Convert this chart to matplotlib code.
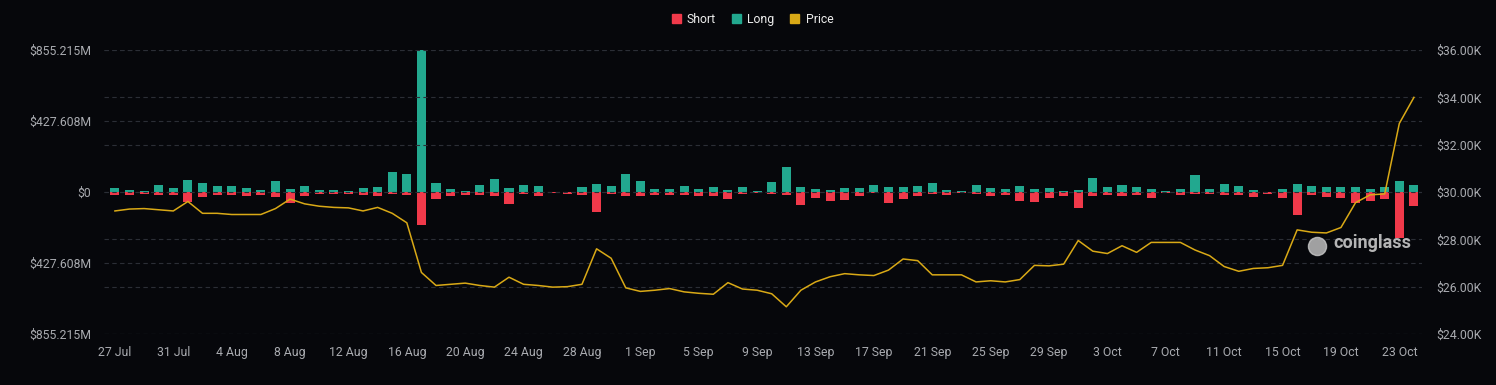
import matplotlib
matplotlib.use("Agg")
import matplotlib.pyplot as plt
from matplotlib.patches import Patch
import numpy as np
import pandas as pd

# daily liquidations (USD millions) and BTC price (USD thousands), 27 Jul - 24 Oct
dates = pd.date_range("2023-07-27", periods=90, freq="D")

long_vals = [26, 10, 4, 42, 26, 72, 56, 34, 38, 24, 12, 64, 16, 34, 14,
             12, 4, 22, 30, 122, 110, 855.215, 56, 16, 8, 42, 78, 22, 42, 36,
             2, 2, 32, 46, 38, 108, 66, 16, 18, 34, 16, 32, 12, 32, 6,
             62, 148, 30, 16, 10, 22, 22, 40, 28, 28, 38, 54, 10, 6, 42,
             26, 16, 38, 18, 22, 8, 14, 87, 31, 42, 31, 18, 7, 17, 105,
             20, 48, 36, 14, 2, 16, 48, 34, 32, 32, 28, 20, 32, 68, 40]

short_vals = [18, 18, 14, 18, 18, 58, 32, 16, 18, 22, 18, 32, 66, 22, 10,
              12, 12, 18, 22, 12, 16, 200, 40, 26, 16, 20, 24, 70, 12, 22,
              6, 10, 18, 118, 12, 22, 26, 16, 16, 16, 24, 26, 44, 14, 6,
              14, 18, 80, 36, 52, 48, 26, 6, 64, 42, 24, 14, 16, 6, 10,
              26, 16, 54, 60, 36, 22, 96, 26, 16, 24, 16, 36, 6, 16, 14,
              10, 16, 16, 32, 14, 36, 140, 20, 32, 34, 68, 56, 40, 280, 86]

price = [29.2, 29.28, 29.3, 29.25, 29.2, 29.6, 29.1, 29.1, 29.05, 29.05, 29.05, 29.3, 29.7, 29.5, 29.4,
         29.35, 29.33, 29.2, 29.35, 29.1, 28.7, 26.6, 26.05, 26.1, 26.15, 26.05, 25.98, 26.4, 26.1, 26.05,
         25.98, 26.0, 26.1, 27.6, 27.2, 25.95, 25.8, 25.85, 25.92, 25.78, 25.72, 25.68, 26.17, 25.9, 25.85,
         25.7, 25.15, 25.85, 26.2, 26.42, 26.55, 26.5, 26.47, 26.7, 27.17, 27.1, 26.5, 26.5, 26.5, 26.2,
         26.25, 26.2, 26.3, 26.9, 26.88, 26.95, 27.95, 27.5, 27.4, 27.73, 27.45, 27.87, 27.87, 27.87, 27.55,
         27.31, 26.85, 26.65, 26.77, 26.8, 26.9, 28.4, 28.3, 28.27, 28.5, 29.55, 29.88, 29.92, 32.9, 34.0]

left_ticks = [-855.215, -427.608, 0, 427.608, 855.215]
left_labels = ["$855.215M", "$427.608M", "$0", "$427.608M", "$855.215M"]
right_ticks = [24, 26, 28, 30, 32, 34, 36]

BG = "#06070b"
RED = "#f0394a"
GREEN = "#22a88f"
GOLD = "#d9a916"
TXT = "#a9abb0"
GRID = "#2b2e36"

plt.rcParams["font.family"] = ["Roboto", "DejaVu Sans"]

fig = plt.figure(figsize=(14.96, 3.85), dpi=100, facecolor=BG)
ax = fig.add_axes([0.0695, 0.1325, 0.881, 0.7375])
ax.set_facecolor(BG)

x = np.arange(len(dates))
ax.bar(x, long_vals, width=0.62, color=GREEN, zorder=2)
ax.bar(x, -np.array(short_vals), width=0.62, color=RED, zorder=2)

ax.set_xlim(-0.75, 89.55)
ax.set_ylim(-855.215, 855.215)
ax.set_yticks(left_ticks)
ax.set_yticklabels(left_labels)
ax.set_xticks(x[::4])
ax.set_xticklabels([d.strftime("%-d %b") for d in dates[::4]])
ax.tick_params(colors=TXT, labelsize=8.8, length=0)
ax.tick_params(axis="y", pad=9)
ax.tick_params(axis="x", pad=9)
ax.grid(axis="y", color=GRID, linestyle=(0, (4, 3)), linewidth=0.8, zorder=0)
for s in ax.spines.values():
    s.set_visible(False)

ax2 = ax.twinx()
ax2.plot(x, price, color=GOLD, linewidth=1.1, zorder=3)
ax2.set_ylim(24, 36)
ax2.set_yticks(right_ticks)
ax2.set_yticklabels(["$%.2fK" % v for v in right_ticks])
ax2.tick_params(colors=TXT, labelsize=8.8, length=0, pad=10)
ax2.grid(axis="y", color=GRID, linestyle=(0, (4, 3)), linewidth=0.8, zorder=0)
for s in ax2.spines.values():
    s.set_visible(False)

# watermark
ax2.scatter([0.92], [0.31], s=170, marker="o", color="#c8c8c8", alpha=0.8,
            transform=ax2.transAxes, zorder=4)
ax2.text(0.933, 0.32, "coinglass", transform=ax2.transAxes, ha="left", va="center",
         fontsize=13, color="#d4d4d4", fontweight="bold", alpha=0.85, zorder=4)

handles = [Patch(color=RED), Patch(color=GREEN), Patch(color=GOLD)]
fig.legend(handles, ["Short", "Long", "Price"], loc="center", bbox_to_anchor=(0.503, 0.95),
           ncol=3, frameon=False, fontsize=8.8, labelcolor="#ececec",
           handlelength=0.75, handleheight=0.75, handletextpad=0.5, columnspacing=1.3)

fig.savefig("out.png", dpi=100, facecolor=BG)
